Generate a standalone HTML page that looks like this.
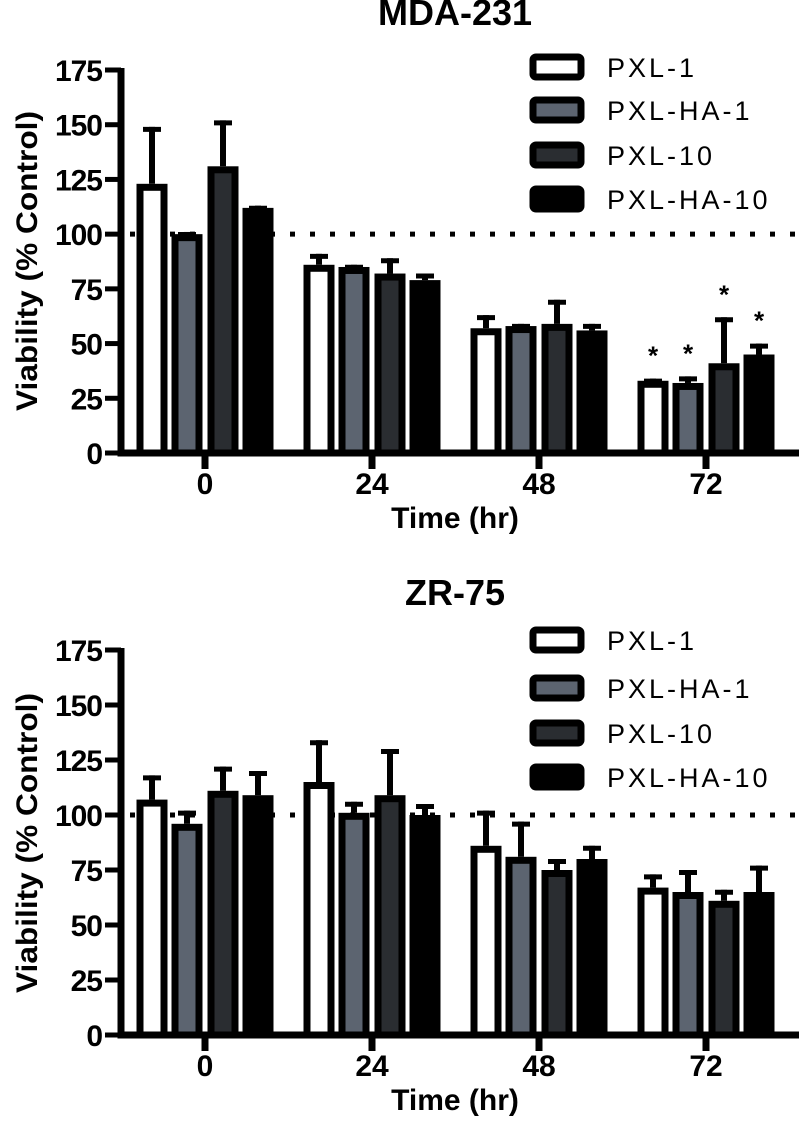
<!DOCTYPE html>
<html><head><meta charset="utf-8"><style>
html,body{margin:0;padding:0;background:#fff}
svg{display:block}
text{font-family:"Liberation Sans",Arial,sans-serif}
</style></head><body>
<svg id="fig" width="799" height="1123" viewBox="0 0 799 1123"></svg>
<script>
const categories = ["0","24","48","72"];
const seriesNames = ["PXL-1","PXL-HA-1","PXL-10","PXL-HA-10"];
const yTicks = [0,25,50,75,100,125,150,175];
// MDA-231
const mdaValues = [[123,86,57,33],[100,85,58,32],[131,82,59,41],[112,79,56,45]];
const mdaErrTop = [[149,91,63,34],[101,86,59,35],[152,89,70,62],[113,82,59,50]];
const mdaStars = [[false,false,false,true],[false,false,false,true],[false,false,false,true],[false,false,false,true]];
// ZR-75
const zrValues = [[107,115,86,67],[96,101,81,65],[111,109,75,61],[109,100,80,65]];
const zrErrTop = [[118,134,102,73],[102,106,97,75],[122,130,80,66],[120,105,86,77]];

const NS="http://www.w3.org/2000/svg";
const svg=document.getElementById('fig');
const fills=["#ffffff","#5c6470","#2a2d31","#000000"];
function mk(tag,attrs,parent){const e=document.createElementNS(NS,tag);for(const k in attrs)e.setAttribute(k,attrs[k]);(parent||svg).appendChild(e);return e;}

function drawChart(cfg){
  const g=mk('g',{});
  
  
  const y0=cfg.y0, ppu=cfg.ppu;
  const Y=v=>y0-v*ppu;
  const X=i=>205+167*i;
  const offs=[-53,-18,18,53];
  const t=mk('text',{x:455,y:cfg.titleY,'text-anchor':'middle','font-size':36,'font-weight':'bold'},g);
  t.textContent=cfg.title;
  
  
  const d=mk('line',{x1:130,x2:799,y1:Y(100),y2:Y(100),stroke:'#000','stroke-width':5,'stroke-dasharray':'5 15'},g);
  
  
  for(let s=0;s<4;s++){
    for(let c=0;c<4;c++){
      const cx=X(c)+offs[s];
      const v=cfg.values[s][c], e=cfg.err[s][c];
      const el=mk('line',{x1:cx,x2:cx,y1:Y(v),y2:Y(e),stroke:'#000','stroke-width':6},g);
      
      
      const cap=mk('line',{x1:cx-9,x2:cx+9,y1:Y(e)+2.5,y2:Y(e)+2.5,stroke:'#000','stroke-width':5},g);
      
      
      const r=mk('rect',{x:cx-15.5+3.5,y:Y(v)+3.5,width:24,height:y0-Y(v)-3.5,fill:fills[s],stroke:'#000','stroke-width':7},g);
      
      
      if(cfg.stars && cfg.stars[s][c]){
        const st=mk('text',{x:cx,y:Y(e)-14,'text-anchor':'middle','font-size':26,'font-weight':'bold'},g);
        st.textContent='*';
        
        
      }
    }
  }
  const ya=mk('line',{x1:121,x2:121,y1:Y(175)-2,y2:y0+3.5,stroke:'#000','stroke-width':7},g);
  
  
  const xa=mk('line',{x1:118,x2:799,y1:y0,y2:y0,stroke:'#000','stroke-width':7},g);
  
  
  yTicks.forEach(v=>{
    const tk=mk('line',{x1:105,x2:121,y1:Y(v),y2:Y(v),stroke:'#000','stroke-width':5},g);
    
    
    const tl=mk('text',{x:102,y:Y(v)+11,'text-anchor':'end','font-size':30,'font-weight':'bold','letter-spacing':-1},g);
    tl.textContent=v;
    
    
  });
  categories.forEach((c,i)=>{
    const tk=mk('line',{x1:X(i),x2:X(i),y1:y0,y2:y0+16,stroke:'#000','stroke-width':7},g);
    
    
    const tl=mk('text',{x:X(i),y:y0+41,'text-anchor':'middle','font-size':30,'font-weight':'bold'},g);
    tl.textContent=c;
    
    
  });
  const xt=mk('text',{x:455,y:y0+75,'text-anchor':'middle','font-size':30,'font-weight':'bold'},g);
  xt.textContent='Time (hr)';
  
  
  const yt=mk('text',{x:0,y:0,'text-anchor':'middle','font-size':30,'font-weight':'bold',textLength:300,lengthAdjust:'spacingAndGlyphs',transform:`translate(37,${cfg.ytitleY}) rotate(-90)`},g);
  yt.textContent='Viability (% Control)';
  
  
  cfg.legendY.forEach((ly,s)=>{
    const lg=mk('g',{},g);
    
    
    mk('rect',{x:533,y:ly-10,width:48,height:20,rx:3,fill:fills[s],stroke:'#000','stroke-width':7},lg);
    const lt=mk('text',{x:607,y:ly+10,'font-size':27,'letter-spacing':3},lg);
    lt.textContent=seriesNames[s];
  });
}
drawChart({name:'mda-231-chart',title:'MDA-231',titleY:25,y0:453,ppu:383/175,values:mdaValues,err:mdaErrTop,stars:mdaStars,legendY:[67,110,155,199],ytitleY:261});
drawChart({name:'zr-75-chart',title:'ZR-75',titleY:605,y0:1035,ppu:385/175,values:zrValues,err:zrErrTop,stars:null,legendY:[640,688,733,777],ytitleY:843});
</script>
</body></html>
